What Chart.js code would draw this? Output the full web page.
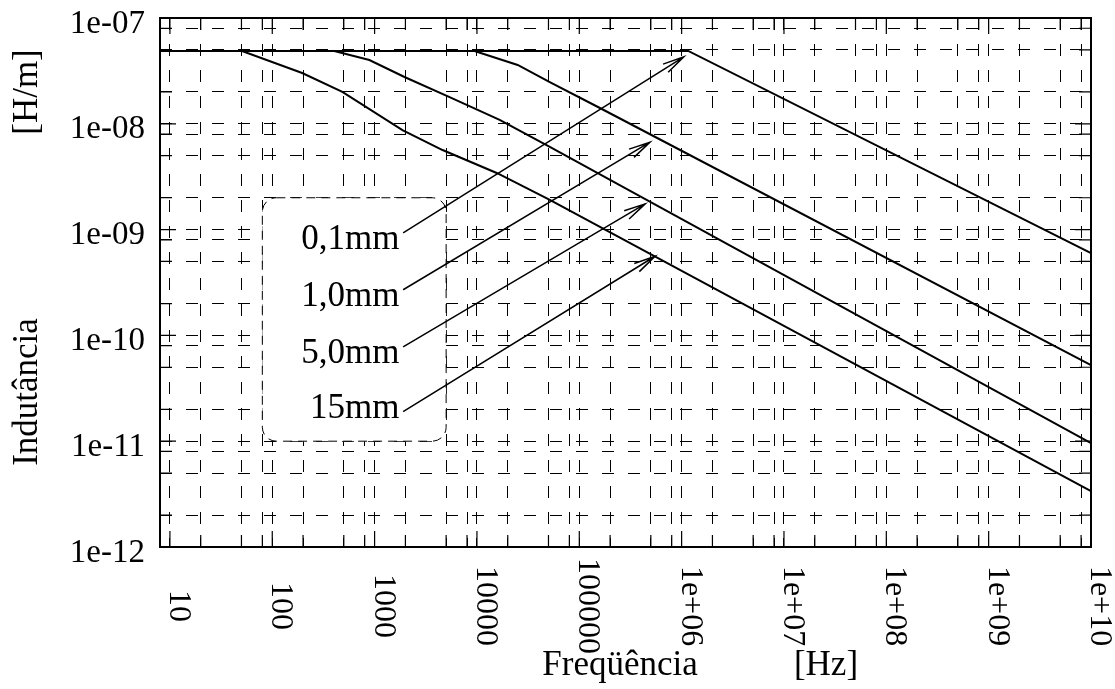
<!DOCTYPE html>
<html><head><meta charset="utf-8">
<script src="https://cdn.jsdelivr.net/npm/chart.js@4.4.1/dist/chart.umd.min.js"></script>
<style>html,body{margin:0;padding:0;background:#fff;}#wrap{width:1115px;height:689px;}</style>
</head><body><div id="wrap"><canvas id="c" width="1115" height="689"></canvas></div>
<script>
// ---- data ----
const seriesLabels = ['0,1mm', '1,0mm', '5,0mm', '15mm'];
const freq01 = [8, 1.16e6, 1e10];
const ind01  = [4.88e-8, 4.88e-8, 6.01e-10];
const freq10 = [8, 9480, 25000, 51500, 1.59e5, 1e10];
const ind10  = [4.88e-8, 4.88e-8, 3.6e-8, 2.48e-8, 1.41e-8, 5.25e-11];
const freq50 = [8, 404, 889, 1959, 5404, 16670, 51500, 1e10];
const ind50  = [4.88e-8, 4.88e-8, 4.01e-8, 2.77e-8, 1.79e-8, 1.09e-8, 6.04e-9, 9.6e-12];
const freq15 = [8, 50.7, 196, 484, 1871, 4613, 15600, 51500, 1e10];
const ind15  = [4.88e-8, 4.88e-8, 3.02e-8, 2.0e-8, 8.73e-9, 5.65e-9, 3.43e-9, 1.91e-9, 3.38e-12];
const xTickValues = [1e1, 1e2, 1e3, 1e4, 1e5, 1e6, 1e7, 1e8, 1e9, 1e10];
const xTickLabels = ['10', '100', '1000', '10000', '100000', '1e+06', '1e+07', '1e+08', '1e+09', '1e+10'];
const yTickValues = [1e-12, 1e-11, 1e-10, 1e-9, 1e-8, 1e-7];
const yTickLabels = ['1e-12', '1e-11', '1e-10', '1e-09', '1e-08', '1e-07'];
const minorMultipliers = [2, 5, 8];
const xTitle = 'Freqüência', xUnit = '[Hz]';
const yTitle = 'Indutância', yUnit = '[H/m]';
// annotation anchors (data coordinates)
const keyBox = {x0: 80, x1: 5000, y0: 2e-9, y1: 1e-11};
const keyTextX = 1750;
const keyTextY = [8e-10, 2.31e-10, 6.67e-11, 2.01e-11];
const arrowFrom = [[1900, 9.3e-10], [1900, 2.7e-10], [1900, 7.8e-11], [1900, 1.9e-11]];
const arrowTo = [[1.05e6, 4.3e-8], [4.9e5, 6.7e-9], [4.4e5, 1.75e-9], [5.5e5, 5.6e-10]];

// ---- helpers ----
const X_MIN = 8, X_MAX = 1e10, Y_MIN = 1e-12, Y_MAX = 1e-7;
function gridValues(min, max) {
  const out = [];
  for (let e = Math.floor(Math.log10(min)); e <= Math.ceil(Math.log10(max)); e++) {
    [1].concat(minorMultipliers).forEach(m => {
      const v = m * Math.pow(10, e);
      if (v >= min * 0.9999 && v <= max * 1.0001) out.push({value: v, major: m === 1});
    });
  }
  return out;
}
const SERIF = '"Liberation Serif", "DejaVu Serif", serif';
const mk = (fx, fy) => fx.map((f, i) => ({x: f, y: fy[i]}));
const ds = (label, fx, fy) => ({label, data: mk(fx, fy), showLine: true, borderColor: '#000', borderWidth: 2,
  pointRadius: 0, tension: 0, fill: false});

const decor = {
  id: 'decor',
  beforeDatasetsDraw(chart) {
    const {ctx, scales: {x, y}} = chart;
    const l = x.getPixelForValue(keyBox.x0), r = x.getPixelForValue(keyBox.x1);
    const t = y.getPixelForValue(keyBox.y0), b = y.getPixelForValue(keyBox.y1);
    ctx.save();
    ctx.beginPath(); ctx.roundRect(l, t, r - l, b - t, 14);
    ctx.fillStyle = '#fff'; ctx.fill();
    ctx.setLineDash([9, 6]); ctx.lineWidth = 1; ctx.strokeStyle = '#000'; ctx.stroke();
    ctx.restore();
  },
  afterDraw(chart) {
    const {ctx, chartArea: ca, scales: {x, y}} = chart;
    ctx.save();
    // frame
    ctx.strokeStyle = '#000'; ctx.lineWidth = 2; ctx.setLineDash([]);
    ctx.strokeRect(ca.left, ca.top, ca.right - ca.left, ca.bottom - ca.top);
    // inner ticks
    ctx.lineWidth = 1.2;
    x.ticks.forEach(tk => {
      const p = x.getPixelForValue(tk.value), len = tk.major ? 16 : 12;
      ctx.beginPath(); ctx.moveTo(p, ca.bottom); ctx.lineTo(p, ca.bottom - len);
      ctx.moveTo(p, ca.top); ctx.lineTo(p, ca.top + len); ctx.stroke();
    });
    y.ticks.forEach(tk => {
      const p = y.getPixelForValue(tk.value), len = tk.major ? 16 : 12;
      ctx.beginPath(); ctx.moveTo(ca.left, p); ctx.lineTo(ca.left + len, p);
      ctx.moveTo(ca.right, p); ctx.lineTo(ca.right - len, p); ctx.stroke();
    });
    ctx.fillStyle = '#000';
    // x tick labels (rotated clockwise, centred)
    ctx.font = '32px ' + SERIF;
    xTickValues.forEach((v, i) => {
      const p = x.getPixelForValue(v);
      ctx.save(); ctx.translate(p, 606); ctx.rotate(Math.PI / 2);
      ctx.textAlign = 'center'; ctx.textBaseline = 'alphabetic';
      ctx.fillText(xTickLabels[i], 0, 0); ctx.restore();
    });
    // y tick labels
    ctx.font = '33px ' + SERIF;
    ctx.textAlign = 'right'; ctx.textBaseline = 'middle';
    yTickValues.forEach((v, i) => ctx.fillText(yTickLabels[i], 145, y.getPixelForValue(v) + 6));
    // axis titles
    ctx.font = '35px ' + SERIF; ctx.textAlign = 'center'; ctx.textBaseline = 'middle';
    ctx.fillText(xTitle, 620, 666);
    ctx.fillText(xUnit, 826, 666);
    [[yUnit, 92], [yTitle, 392]].forEach(([s, cy]) => {
      ctx.save(); ctx.translate(28, cy); ctx.rotate(-Math.PI / 2); ctx.fillText(s, 0, 0); ctx.restore();
    });
    // key labels
    ctx.font = '35px ' + SERIF; ctx.textAlign = 'right';
    seriesLabels.forEach((s, i) => ctx.fillText(s, x.getPixelForValue(keyTextX), y.getPixelForValue(keyTextY[i])));
    // arrows
    ctx.lineWidth = 1.5;
    arrowFrom.forEach((a, i) => {
      const x0 = x.getPixelForValue(a[0]), y0 = y.getPixelForValue(a[1]);
      const x1 = x.getPixelForValue(arrowTo[i][0]), y1 = y.getPixelForValue(arrowTo[i][1]);
      const ang = Math.atan2(y1 - y0, x1 - x0), h = 22, w = 0.22;
      ctx.beginPath(); ctx.moveTo(x0, y0); ctx.lineTo(x1, y1);
      ctx.moveTo(x1 - h * Math.cos(ang - w), y1 - h * Math.sin(ang - w)); ctx.lineTo(x1, y1);
      ctx.lineTo(x1 - h * Math.cos(ang + w), y1 - h * Math.sin(ang + w));
      ctx.stroke();
    });
    ctx.restore();
  }
};

const axisCommon = {
  type: 'logarithmic',
  grid: {color: '#000', lineWidth: 1, drawTicks: false, borderDash: [12, 14]},
  border: {display: false, dash: [12, 14]},
  ticks: {display: false}
};

new Chart(document.getElementById('c'), {
  type: 'scatter',
  data: {datasets: [ds(seriesLabels[0], freq01, ind01), ds(seriesLabels[1], freq10, ind10),
                    ds(seriesLabels[2], freq50, ind50), ds(seriesLabels[3], freq15, ind15)]},
  options: {
    responsive: false, animation: false, devicePixelRatio: 1,
    layout: {padding: {top: 18, right: 24, left: 0, bottom: 0}},
    plugins: {legend: {display: false}, tooltip: {enabled: false}},
    scales: {
      x: Object.assign({}, axisCommon, {min: X_MIN, max: X_MAX,
        afterBuildTicks: s => { s.ticks = gridValues(X_MIN, X_MAX); },
        afterFit: s => { s.height = 142; }}),
      y: Object.assign({}, axisCommon, {min: Y_MIN, max: Y_MAX,
        afterBuildTicks: s => { s.ticks = gridValues(Y_MIN, Y_MAX); },
        afterFit: s => { s.width = 160; }})
    }
  },
  plugins: [decor]
});
</script></body></html>
